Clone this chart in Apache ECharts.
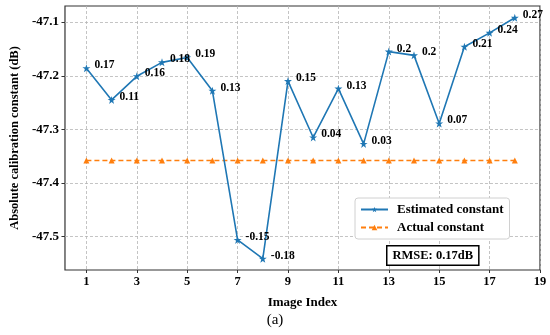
<!DOCTYPE html>
<html>
<head>
<meta charset="utf-8">
<script src="https://cdn.jsdelivr.net/npm/echarts@6/dist/echarts.min.js"></script>
<style>html,body{margin:0;padding:0;background:#fff;}#c{width:550px;height:335px;}</style>
</head>
<body>
<div id="c"></div>
<script>
var imageIndex = [1,2,3,4,5,6,7,8,9,10,11,12,13,14,15,16,17,18];
var estimated = [-47.186,-47.245,-47.201,-47.175,-47.166,-47.228,-47.506,-47.541,-47.210,-47.315,-47.224,-47.327,-47.155,-47.162,-47.289,-47.146,-47.120,-47.092];
var actual = [-47.358,-47.358,-47.358,-47.358,-47.358,-47.358,-47.358,-47.358,-47.358,-47.358,-47.358,-47.358,-47.358,-47.358,-47.358,-47.358,-47.358,-47.358];
var diffLabels = ['0.17','0.11','0.16','0.18','0.19','0.13','-0.15','-0.18','0.15','0.04','0.13','0.03','0.2','0.2','0.07','0.21','0.24','0.27'];
var xTickLabels = [1,3,5,7,9,11,13,15,17,19];
var yTicks = [-47.5,-47.4,-47.3,-47.2,-47.1];

var FONT = "'Liberation Serif','Times New Roman',serif";
var chart = echarts.init(document.getElementById('c'));
function pairs(ys){ return imageIndex.map(function(x,i){ return [x, ys[i]]; }); }
chart.setOption({
  animation: false,
  grid: {left: 55, right: 10, top: 6, bottom: 65, show: true, borderColor: '#333', borderWidth: 1.2, backgroundColor: 'transparent'},
  xAxis: {
    type: 'value', min: 0.15, max: 19,
    name: 'Image Index', nameLocation: 'middle', nameGap: 26,
    nameTextStyle: {fontFamily: FONT, fontWeight: 'bold', fontSize: 13, color: '#000'},
    axisLine: {show: false},
    axisTick: {show: true, customValues: xTickLabels, length: 3, inside: false, lineStyle: {color: '#333', width: 1}},
    axisLabel: {customValues: xTickLabels, fontFamily: FONT, fontWeight: 'bold', fontSize: 12.5, color: '#000', margin: 5},
    splitLine: {show: true, lineStyle: {color: '#b5b5b5', type: [3, 2], width: 0.8}}
  },
  yAxis: {
    type: 'value', min: -47.562, max: -47.070,
    name: 'Absolute calibration constant (dB)', nameLocation: 'middle', nameGap: 42, nameRotate: 90,
    nameTextStyle: {fontFamily: FONT, fontWeight: 'bold', fontSize: 12.5, color: '#000'},
    axisLine: {show: false},
    axisTick: {show: true, customValues: yTicks, length: 3.5, inside: false, lineStyle: {color: '#333', width: 1}},
    axisLabel: {customValues: yTicks, fontFamily: FONT, fontWeight: 'bold', fontSize: 13, color: '#000', margin: 6,
      formatter: function(v){ return (Math.round(v*10)/10).toFixed(1); }},
    splitLine: {show: true, lineStyle: {color: '#b5b5b5', type: [3, 2], width: 0.8}}
  },
  legend: {
    left: 355, top: 198, orient: 'vertical',
    itemWidth: 27, itemHeight: 7, itemGap: 5,
    padding: [5, 6, 5, 5],
    backgroundColor: '#fff', borderColor: '#d0d0d0', borderWidth: 1, borderRadius: 3,
    textStyle: {fontFamily: FONT, fontWeight: 'bold', fontSize: 13, color: '#000', padding: [0,0,0,4]},
    data: ['Estimated constant', 'Actual constant']
  },
  graphic: [
    {type: 'text', left: 386, top: 245, z: 100,
     style: {text: 'RMSE: 0.17dB', font: "bold 12.5px 'Liberation Serif','Times New Roman',serif", fill: '#000',
       backgroundColor: '#fff', borderColor: '#000', borderWidth: 1.5, padding: [3, 5, 2, 5]}},
    {type: 'text', left: 'center', top: 313,
     style: {text: '(a)', font: "15px 'Liberation Serif','Times New Roman',serif", fill: '#000'}}
  ],
  series: [
    {
      name: 'Estimated constant', type: 'line', data: pairs(estimated),
      color: '#1f77b4', lineStyle: {width: 1.6},
      symbol: 'path://M50,0 L61.8,35.4 L100,35.4 L69.1,57.3 L80.9,95.1 L50,73.2 L19.1,95.1 L30.9,57.3 L0,35.4 L38.2,35.4 Z',
      symbolSize: 8, itemStyle: {color: '#1f77b4'}, z: 3,
      label: {show: true, position: 'right', distance: 4, offset: [0, -3],
        fontFamily: FONT, fontWeight: 'bold', fontSize: 11.5, color: '#000',
        formatter: function(p){ return diffLabels[p.dataIndex]; }}
    },
    {
      name: 'Actual constant', type: 'line', data: pairs(actual),
      color: '#ff7f0e', lineStyle: {width: 1.5, type: [5, 3]},
      symbol: 'triangle', symbolSize: 6, itemStyle: {color: '#ff7f0e'}, z: 2
    }
  ]
});
</script>
</body>
</html>
